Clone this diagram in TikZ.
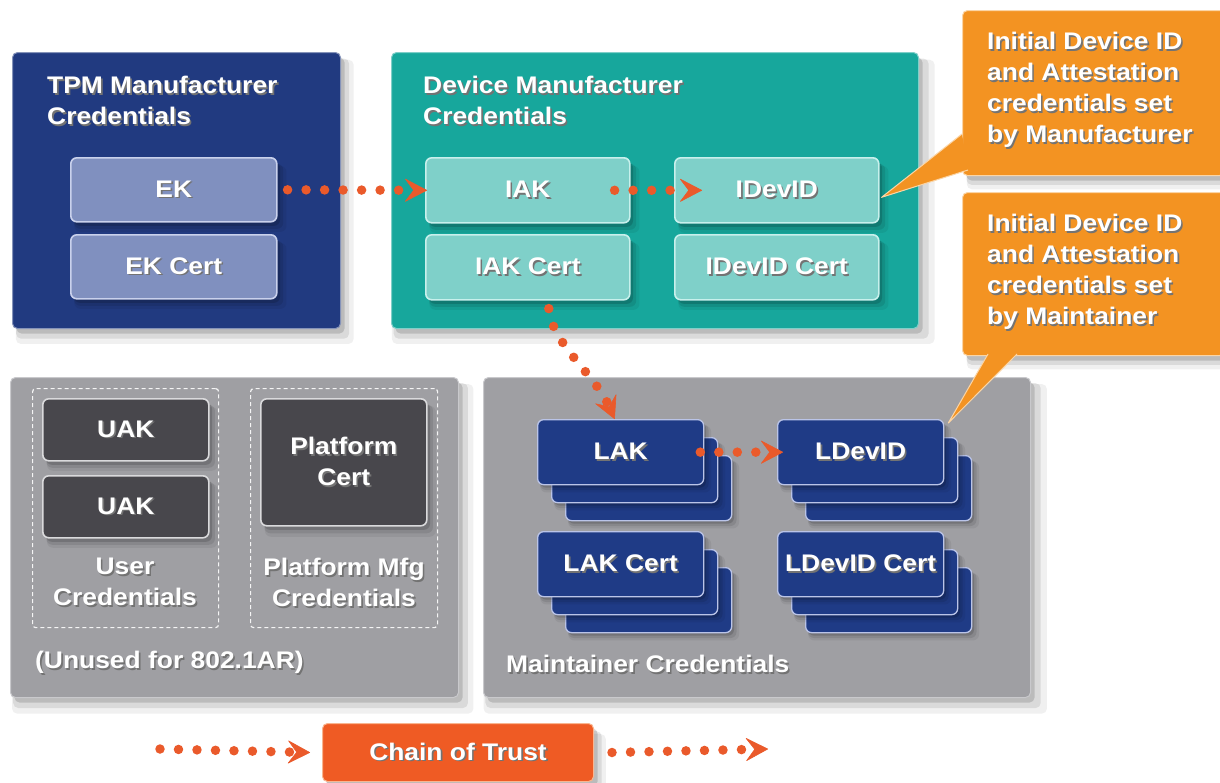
\documentclass[tikz,border=0pt]{standalone}
\usepackage{fontspec}
\setmainfont{Liberation Sans}[FakeStretch=1.1]
\usetikzlibrary{arrows.meta,shadows}

\definecolor{tpmbg}{HTML}{213A80}
\definecolor{tpmkey}{HTML}{8090BF}
\definecolor{tpmedge}{HTML}{C9D1EC}
\definecolor{devbg}{HTML}{17A79C}
\definecolor{devkey}{HTML}{7FD0C9}
\definecolor{devedge}{HTML}{C8F0EC}
\definecolor{notebg}{HTML}{F39322}
\definecolor{noteedge}{HTML}{FBD5A6}
\definecolor{greybg}{HTML}{9F9FA3}
\definecolor{greyedge}{HTML}{C9C9CC}
\definecolor{darkkey}{HTML}{48474C}
\definecolor{darkedge}{HTML}{DADADC}
\definecolor{maintkey}{HTML}{1F3B86}
\definecolor{maintedge}{HTML}{BAC4E8}
\definecolor{chainbg}{HTML}{EF5B24}
\definecolor{chainedge}{HTML}{F9B590}
\definecolor{trustdot}{HTML}{EA5A2B}

% white lettering with a small dark drop shadow
\newcommand\sh[1]{\leavevmode\rlap{\kern1.6pt\raisebox{-1.6pt}{\textcolor{black!55}{#1}}}#1}

% three stacked cards, front card carries the label
\newcommand\keystack[4]{%
  \node[mkey] (#1-3) at (#2+28,#3+36) {};
  \node[mkey] (#1-2) at (#2+14,#3+18) {};
  \node[mkey] (#1) at (#2,#3) {\sh{#4}};}

\begin{document}
\begin{tikzpicture}[x=1pt,y=-1pt,
  txt/.style={font=\fontsize{24}{31}\selectfont\bfseries, text=white, inner sep=0pt},
  % soft shadow built from a few translucent offset copies
  softshadow/.style={
    drop shadow={shadow xshift=#1*1.6pt, shadow yshift=-#1*2.2pt, shadow scale=1.03, opacity=.06, fill=black},
    drop shadow={shadow xshift=#1*1.2pt, shadow yshift=-#1*1.6pt, shadow scale=1.015, opacity=.09, fill=black},
    drop shadow={shadow xshift=#1*0.8pt, shadow yshift=-#1*1.0pt, opacity=.14, fill=black}},
  panel/.style={rounded corners=5pt, line width=1pt, anchor=north west, inner sep=0pt, softshadow=5},
  key/.style={txt, rounded corners=6pt, line width=1.6pt, align=center, anchor=north west},
  tkey/.style={key, fill=tpmkey, draw=tpmedge, minimum width=206pt, minimum height=64pt, softshadow=4},
  dkey/.style={key, fill=devkey, draw=devedge, minimum width=204pt, minimum height=65pt, softshadow=4},
  ukey/.style={key, fill=darkkey, draw=darkedge, minimum width=166pt, minimum height=62pt, softshadow=4},
  mkey/.style={key, fill=maintkey, draw=maintedge, minimum width=166pt, minimum height=65pt,
    line width=1.3pt, softshadow=3},
  frame/.style={draw=white!92!gray, line width=1.2pt, dash pattern=on 4pt off 3pt,
    rounded corners=3pt, anchor=north west, inner sep=0pt},
  note/.style={panel, fill=notebg, draw=noteedge, minimum width=262pt, minimum height=165pt},
  trust/.style={draw=trustdot, line width=9.5pt, line cap=round, dash pattern=on 0pt off 18.5pt,
    -{Stealth[length=23pt 0, width=24pt 0, inset=9pt 0, line width=0.6pt, round]}},
]
% page
\fill[white] (0,0) rectangle (1220,782);
\useasboundingbox (0,0) rectangle (1220,782);

% ---- panels ----
\node[panel, fill=tpmbg, draw=tpmbg!55!white, minimum width=328pt, minimum height=276pt] (tpm) at (12,52) {};
\node[panel, fill=devbg, draw=devbg!55!white, minimum width=527pt, minimum height=276pt] (dev) at (391,52) {};
\node[panel, fill=greybg, draw=greyedge, minimum width=448pt, minimum height=320pt] (unused) at (10,377) {};
\node[panel, fill=greybg, draw=greyedge, minimum width=547pt, minimum height=320pt] (maint) at (483,377) {};

% ---- panel titles ----
\node[txt, anchor=north west, align=left] (tpmtitle) at (47,76) {\sh{TPM Manufacturer}\\\sh{Credentials}};
\node[txt, anchor=north west, align=left] (devtitle) at (423,76) {\sh{Device Manufacturer}\\\sh{Credentials}};

% ---- TPM and device keys ----
\node[tkey] (ek)  at (70,157) {\sh{EK}};
\node[tkey] (ekc) at (70,234) {\sh{EK Cert}};
\node[dkey] (iak)  at (425,157) {\sh{IAK}};
\node[dkey] (iakc) at (425,234) {\sh{IAK Cert}};
\node[dkey] (idevid)  at (674,157) {\sh{IDevID}};
\node[dkey] (idevidc) at (674,234) {\sh{IDevID Cert}};

% ---- unused credentials ----
\node[frame, minimum width=186pt, minimum height=239pt] (userf) at (32,388) {};
\node[frame, minimum width=187pt, minimum height=239pt] (platf) at (250,388) {};
\node[ukey] (uakA) at (42,398) {\sh{UAK}};
\node[ukey] (uakB) at (42,475) {\sh{UAK}};
\node[ukey, minimum height=127pt] (pcert) at (260,398) {\sh{Platform}\\\sh{Cert}};
\node[txt, align=center, anchor=north] (userlbl) at (125,558) {\sh{User}\\\sh{Credentials}};
\node[txt, align=center, anchor=north] (platlbl) at (344,558) {\sh{Platform Mfg}\\\sh{Credentials}};
\node[txt, anchor=west] (unusedlbl) at (35,663) {\sh{(Unused for 802.1AR)}};

% ---- maintainer credentials ----
\keystack{lak}{537}{419}{LAK}
\keystack{ldevid}{777}{419}{LDevID}
\keystack{lakc}{537}{531}{LAK Cert}
\keystack{ldevidc}{777}{531}{LDevID Cert}
\node[txt, anchor=west] (maintlbl) at (506,665) {\sh{Maintainer Credentials}};

% ---- callouts ----
\node[note] (noteA) at (962,10) {};
\node[note, minimum height=163pt] (noteB) at (962,192) {};
\coordinate (tipA) at ([xshift=2pt,yshift=-7pt]idevid.east);
\coordinate (tipB) at ([xshift=4pt,yshift=-4pt]ldevid.north east);
\fill[notebg] (962,134) -- (tipA) -- (968,170) -- cycle;
\draw[noteedge, line width=1pt, line join=round] (962,134) -- (tipA) -- (968,170);
\fill[notebg] (988,354) -- (tipB) -- (1017,354) -- cycle;
\draw[noteedge, line width=1pt, line join=round] (988,354) -- (tipB) -- (1017,354);
\node[txt, anchor=north west, align=left] (noteAtxt) at (987,32)
  {\sh{Initial Device ID}\\\sh{and Attestation}\\\sh{credentials set}\\\sh{by Manufacturer}};
\node[txt, anchor=north west, align=left] (noteBtxt) at (987,214)
  {\sh{Initial Device ID}\\\sh{and Attestation}\\\sh{credentials set}\\\sh{by Maintainer}};

% ---- chain of trust ----
\draw[trust] ([xshift=10pt]ek.east) -- ([xshift=2pt]iak.west);
\draw[trust] ([xshift=-16pt]iak.east) -- ([xshift=28pt]idevid.west);
\draw[trust] ([xshift=21pt,yshift=-8pt]iakc.south) .. controls +(3,35) and +(-20,-45) .. ([xshift=-6pt]lak.north);
\draw[trust] ([xshift=-4pt]lak.east) -- ([xshift=6pt]ldevid.west);

% ---- legend ----
\node[panel, fill=chainbg, draw=chainedge, minimum width=271pt, minimum height=58pt] (chain) at (322,723) {};
\node[txt] (chaintxt) at (chain.center) {\sh{Chain of Trust}};
\coordinate (legA) at (160,749);
\coordinate (legD) at (768,749);
\draw[trust] (legA) -- ([xshift=-12pt]chain.west);
\draw[trust] ([xshift=18pt]chain.east) -- (legD);
\end{tikzpicture}
\end{document}
